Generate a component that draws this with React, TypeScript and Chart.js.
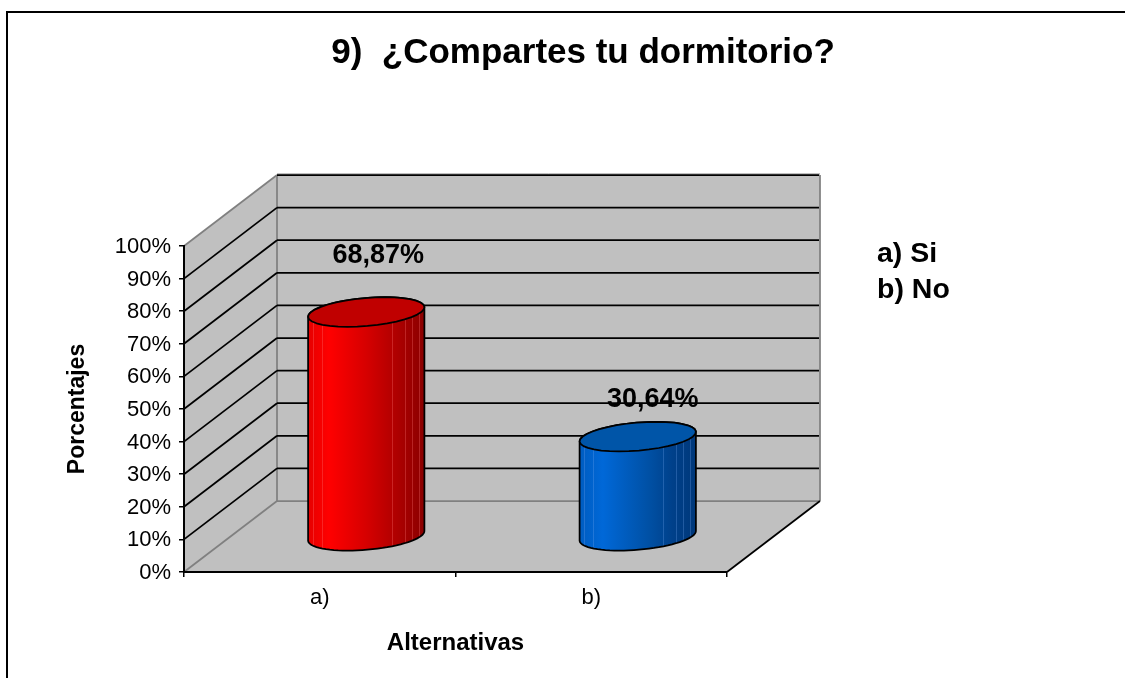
import React, { useEffect, useRef } from "react";
import { Chart, registerables } from "chart.js";

Chart.register(...registerables);

const categories = ["a)", "b)"];
const values = [68.87, 30.64];
const valueLabels = ["68,87%", "30,64%"];
const legendLines = ["a) Si", "b) No"];
const titleText = "9)  ¿Compartes tu dormitorio?";
const yTitle = "Porcentajes";
const xTitle = "Alternativas";

const FONT = '"Liberation Sans", Arial, sans-serif';
const DEPTH_X = 93;
const DEPTH_Y = -71;
const WALL = "#c0c0c0";
const EDGE = "#808080";
const TILT = -0.086;
const ELLIPSE_RY = 14;

const bodyStops: [number, string][][] = [
  [[0, "#e60000"], [0.18, "#ff0000"], [0.5, "#d60000"], [0.75, "#b00000"], [1, "#8a0000"]],
  [[0, "#005cc0"], [0.2, "#0068d8"], [0.6, "#0050a4"], [0.8, "#00408a"], [1, "#00387a"]],
];
const capColors = ["#c00000", "#0055a8"];
const ridgeColors = ["rgba(255,120,120,0.3)", "rgba(120,170,240,0.28)"];
const ridgePositions = [0.04, 0.12, 0.72, 0.83, 0.89, 0.95];
const labelOffsets = [[12, -56], [15, -37]];

function ellipsePoint(cx: number, cy: number, rx: number, t: number) {
  const ex = rx * Math.cos(t);
  const ey = ELLIPSE_RY * Math.sin(t);
  return [
    cx + ex * Math.cos(TILT) - ey * Math.sin(TILT),
    cy + ex * Math.sin(TILT) + ey * Math.cos(TILT),
  ];
}

function traceArc(ctx: CanvasRenderingContext2D, cx: number, cy: number, rx: number, from: number, to: number, move: boolean) {
  const steps = 36;
  for (let i = 0; i <= steps; i++) {
    const t = from + ((to - from) * i) / steps;
    const [x, y] = ellipsePoint(cx, cy, rx, t);
    if (i === 0 && move) ctx.moveTo(x, y);
    else ctx.lineTo(x, y);
  }
}

const scenePlugin = {
  id: "scene",
  beforeDraw(chart: any) {
    const { ctx, chartArea: a, scales } = chart;
    const y = scales.y;
    ctx.save();
    ctx.fillStyle = "#ffffff";
    ctx.fillRect(0, 0, chart.width, chart.height);

    // outer frame
    ctx.strokeStyle = "#000000";
    ctx.lineWidth = 2;
    ctx.beginPath();
    ctx.moveTo(7, 678);
    ctx.lineTo(7, 12);
    ctx.lineTo(1125, 12);
    ctx.stroke();

    const poly = (pts: number[][], fill: string) => {
      ctx.beginPath();
      pts.forEach((p, i) => (i ? ctx.lineTo(p[0], p[1]) : ctx.moveTo(p[0], p[1])));
      ctx.closePath();
      ctx.fillStyle = fill;
      ctx.fill();
    };
    const seg = (x1: number, y1: number, x2: number, y2: number, color: string, w = 1.75) => {
      ctx.strokeStyle = color;
      ctx.lineWidth = w;
      ctx.beginPath();
      ctx.moveTo(x1, y1);
      ctx.lineTo(x2, y2);
      ctx.stroke();
    };

    const L = a.left, R = a.right, T = a.top, B = a.bottom;
    const dx = DEPTH_X, dy = DEPTH_Y;
    poly([[L, T], [L + dx, T + dy], [L + dx, B + dy], [L, B]], WALL);
    poly([[L + dx, T + dy], [R + dx, T + dy], [R + dx, B + dy], [L + dx, B + dy]], WALL);
    poly([[L, B], [L + dx, B + dy], [R + dx, B + dy], [R, B]], WALL);

    seg(L, T, L + dx, T + dy, EDGE);
    seg(L, B, L + dx, B + dy, EDGE);
    seg(L + dx, T + dy - 1, R + dx, T + dy - 1, EDGE, 1);
    seg(L + dx, T + dy, L + dx, B + dy, EDGE);
    seg(R + dx, T + dy, R + dx, B + dy, EDGE);
    seg(L + dx, B + dy, R + dx, B + dy, EDGE);
    seg(R, B, R + dx, B + dy, "#000000");

    y.ticks.forEach((tick: any) => {
      if (tick.value === 0) return;
      const py = y.getPixelForValue(tick.value);
      if (tick.value !== 100) seg(L, py, L + dx, py + dy, "#000000");
      seg(L + dx, py + dy, R + dx - 1, py + dy, "#000000");
    });
    ctx.restore();
  },
  afterDatasetsDraw(chart: any) {
    const { ctx } = chart;
    const meta = chart.getDatasetMeta(0);
    ctx.save();
    meta.data.forEach((bar: any, i: number) => {
      const rx = bar.width / 2;
      const cx = bar.x + DEPTH_X / 2;
      const top = bar.y + DEPTH_Y / 2;
      const bottom = bar.base + DEPTH_Y / 2;
      const grad = ctx.createLinearGradient(cx - rx, 0, cx + rx, 0);
      bodyStops[i].forEach(([o, c]) => grad.addColorStop(o, c));

      const traceBody = () => {
        ctx.beginPath();
        traceArc(ctx, cx, top, rx, Math.PI, Math.PI * 2, true);
        traceArc(ctx, cx, bottom, rx, 0, Math.PI, false);
        ctx.closePath();
      };
      traceBody();
      ctx.fillStyle = grad;
      ctx.fill();

      ctx.save();
      traceBody();
      ctx.clip();
      ctx.strokeStyle = ridgeColors[i];
      ctx.lineWidth = 1;
      ridgePositions.forEach((p) => {
        const x = Math.round(cx - rx + p * 2 * rx) + 0.5;
        ctx.beginPath();
        ctx.moveTo(x, top - 20);
        ctx.lineTo(x, bottom + 20);
        ctx.stroke();
      });
      ctx.restore();

      ctx.strokeStyle = "#000000";
      ctx.lineWidth = 1.75;
      ctx.lineJoin = "round";
      traceBody();
      ctx.stroke();

      ctx.beginPath();
      traceArc(ctx, cx, top, rx, 0, Math.PI * 2, true);
      ctx.closePath();
      ctx.fillStyle = capColors[i];
      ctx.fill();
      ctx.stroke();
    });

    ctx.fillStyle = "#000000";
    ctx.font = `bold 27px ${FONT}`;
    ctx.textAlign = "center";
    ctx.textBaseline = "middle";
    meta.data.forEach((bar: any, i: number) => {
      ctx.fillText(
        valueLabels[i],
        bar.x + DEPTH_X / 2 + labelOffsets[i][0],
        bar.y + DEPTH_Y / 2 + labelOffsets[i][1]
      );
    });

    ctx.textAlign = "left";
    ctx.font = `bold 28.5px ${FONT}`;
    legendLines.forEach((line, i) => {
      ctx.fillText(line, 877, 254 + i * 36);
    });
    ctx.restore();
  },
};

export default function App() {
  const ref = useRef<HTMLCanvasElement>(null);
  useEffect(() => {
    const chart = new Chart(ref.current as HTMLCanvasElement, {
      type: "bar",
      data: {
        labels: categories,
        datasets: [
          {
            data: values,
            backgroundColor: "transparent",
            borderWidth: 0,
            categoryPercentage: 0.43,
            barPercentage: 1,
          },
        ],
      },
      plugins: [scenePlugin],
      options: {
        responsive: false,
        animation: false,
        color: "#000000",
        layout: { padding: { left: 41, right: 0, top: 0, bottom: 0 } },
        plugins: {
          legend: { display: false },
          tooltip: { enabled: false },
          title: {
            display: true,
            text: titleText,
            color: "#000000",
            font: { family: FONT, size: 35, weight: "bold", lineHeight: 1.2 },
            padding: { top: 32, bottom: 172 },
          },
        },
        scales: {
          x: {
            afterFit: (s: any) => {
              s.height = 106;
            },
            border: { color: "#000000", width: 2 },
            grid: { drawOnChartArea: false, drawTicks: true, tickLength: 5, color: "#000000", lineWidth: 1.5 },
            ticks: {
              color: "#000000",
              padding: 8,
              maxRotation: 0,
              font: { family: FONT, size: 22 },
            },
            title: {
              display: true,
              text: xTitle,
              color: "#000000",
              font: { family: FONT, size: 24, weight: "bold", lineHeight: 1.2 },
              padding: { top: 0, bottom: 20 },
            },
          },
          y: {
            min: 0,
            max: 100,
            afterFit: (s: any) => {
              s.width = 143;
            },
            border: { color: "#000000", width: 2 },
            grid: { drawOnChartArea: false, drawTicks: true, tickLength: 5, color: "#000000", lineWidth: 1.5 },
            ticks: {
              stepSize: 10,
              color: "#000000",
              padding: 8,
              labelOffset: 1,
              font: { family: FONT, size: 22 },
              callback: (v: any) => `${v}%`,
            },
            title: {
              display: true,
              text: yTitle,
              color: "#000000",
              font: { family: FONT, size: 23, weight: "bold", lineHeight: 1.2 },
              padding: { top: 23, bottom: 0 },
            },
          },
          y2: {
            position: "right",
            type: "linear",
            afterFit: (s: any) => {
              s.width = 398;
            },
            border: { display: false },
            grid: { display: false },
            ticks: { display: false },
          },
        },
      },
    } as any);
    return () => chart.destroy();
  }, []);
  return (
    <canvas
      ref={ref}
      width={1125}
      height={678}
      style={{ position: "absolute", left: 0, top: 0, display: "block" }}
    />
  );
}
